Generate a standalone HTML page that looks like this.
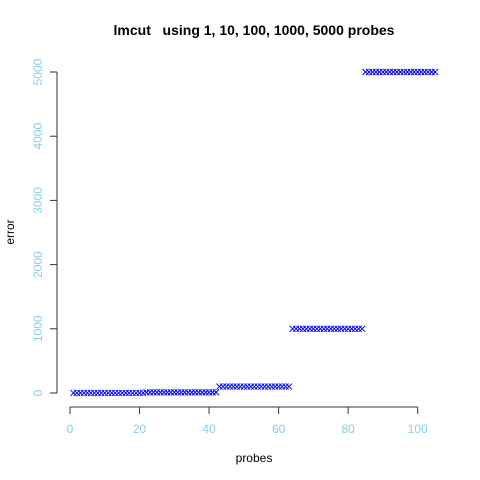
<!DOCTYPE html>
<html><head><meta charset="utf-8"><style>
body{margin:0;background:#fff}
svg{display:block;font-family:"Liberation Sans",sans-serif}
</style></head><body>
<svg id="chart" width="480" height="480">
<text x="254" y="35" text-anchor="middle" font-size="14" font-weight="bold" xml:space="preserve">lmcut   using 1, 10, 100, 1000, 5000 probes</text>
<text x="254" y="462" text-anchor="middle" font-size="12">probes</text>
<text x="14" y="232" text-anchor="middle" font-size="12" transform="rotate(-90 14 232)">error</text>
<g id="axes"></g>
<g id="marks"></g>
</svg>
<script>
const xTicks=[0,20,40,60,80,100];
const yTicks=[0,1000,2000,3000,4000,5000];
const levels=[1,10,100,1000,5000];
const perLevel=21;
const xs=v=>70+(v-0)*(417.7-70)/100;
const ys=v=>393-v*(393-72)/5000;
const NS="http://www.w3.org/2000/svg";
const ax=document.getElementById('axes'),mk=document.getElementById('marks');
function el(t,a,p){const e=document.createElementNS(NS,t);for(const k in a)e.setAttribute(k,a[k]);p.appendChild(e);return e;}
let l=el('line',{x1:xs(0),x2:xs(100),y1:407,y2:407,stroke:'#333'},ax);


xTicks.forEach(v=>{
 const t=el('line',{x1:xs(v),x2:xs(v),y1:407,y2:414,stroke:'#333'},ax);
 
 
 const tx=el('text',{x:xs(v),y:433,'text-anchor':'middle','font-size':12,fill:'#87CEEB'},ax);
 tx.textContent=v;
 
 
});
l=el('line',{x1:57,x2:57,y1:ys(0),y2:ys(5000),stroke:'#333'},ax);


yTicks.forEach(v=>{
 const t=el('line',{x1:50,x2:57,y1:ys(v),y2:ys(v),stroke:'#333'},ax);
 
 
 const tx=el('text',{x:42,y:ys(v),'text-anchor':'middle','font-size':12,fill:'#87CEEB',transform:`rotate(-90 42 ${ys(v)})`},ax);
 tx.textContent=v;
 
 
});
let i=1;
levels.forEach(lv=>{
 for(let k=0;k<perLevel;k++,i++){
  const cx=xs(i),cy=ys(lv),r=3;
  const p=el('path',{d:`M${cx-r} ${cy-r}L${cx+r} ${cy+r}M${cx-r} ${cy+r}L${cx+r} ${cy-r}`,stroke:'#0000ff','stroke-width':1,fill:'none'},mk);
  
  
 }
});
</script>
</body></html>
